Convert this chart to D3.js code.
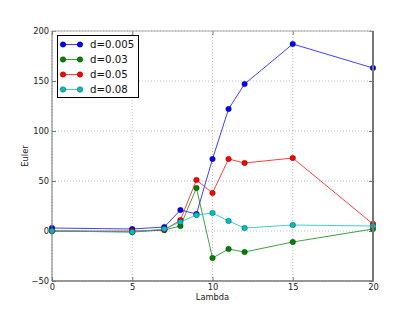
<!DOCTYPE html>
<html>
<head>
<meta charset="utf-8">
<script src="https://cdn.jsdelivr.net/npm/d3@7"></script>
<style>
	body { margin: 0; background: #fff; }
	svg { display: block; font-family: "DejaVu Sans", sans-serif; }
</style>
</head>
<body>
<script>
var lambdas = [0, 5, 7, 8, 9, 10, 11, 12, 15, 20];
var seriesNames = ["d=0.005", "d=0.03", "d=0.05", "d=0.08"];
var eulerD005 = [3, 2, 4, 21, 17, 72, 122, 147, 187, 163];
var eulerD03 = [0, -1, 1, 5, 43, -27, -18, -21, -11, 2];
var eulerD05 = [0, 0, 1, 11, 51, 38, 72, 68, 73, 7];
var eulerD08 = [0, -1, 2, 9, 16, 18, 10, 3, 6, 5];
var xTicks = [0, 5, 10, 15, 20];
var yTicks = [-50, 0, 50, 100, 150, 200];

var colors = ["#0000ff", "#008000", "#ff0000", "#00bfbf"];
var series = [eulerD005, eulerD03, eulerD05, eulerD08];

var width = 415, height = 312;
var plotLeft = 52, plotRight = 373, plotTop = 31, plotBottom = 281;

var svg = d3.select("body").append("svg")
	.attr("width", width)
	.attr("height", height);

var x = d3.scaleLinear().domain([0, 20]).range([plotLeft, plotRight]);
var y = d3.scaleLinear().domain([-50, 200]).range([plotBottom, plotTop]);

// grid
svg.selectAll("line.gx")
	.data(xTicks)
	.enter().append("line")
	.attr("x1", function(d) { return x(d); })
	.attr("x2", function(d) { return x(d); })
	.attr("y1", plotTop).attr("y2", plotBottom)
	.style("stroke", "#b0b0b0")
	.style("stroke-dasharray", "1,2")
	.style("stroke-width", 0.8);

svg.selectAll("line.gy")
	.data(yTicks)
	.enter().append("line")
	.attr("x1", plotLeft).attr("x2", plotRight)
	.attr("y1", function(d) { return y(d); })
	.attr("y2", function(d) { return y(d); })
	.style("stroke", "#b0b0b0")
	.style("stroke-dasharray", "1,2")
	.style("stroke-width", 0.8);

// axes with inward ticks
svg.append("g")
	.attr("transform", "translate(0," + plotBottom + ")")
	.call(d3.axisBottom(x).tickValues(xTicks).tickSize(-4).tickPadding(3).tickFormat(d3.format("d")));
svg.append("g")
	.attr("transform", "translate(" + plotLeft + ",0)")
	.call(d3.axisLeft(y).tickValues(yTicks).tickSize(-4).tickPadding(3).tickFormat(function(d) { return d < 0 ? "\u2212" + Math.abs(d) : d; }));
svg.append("g")
	.attr("transform", "translate(0," + plotTop + ")")
	.call(d3.axisTop(x).tickValues(xTicks).tickSize(-4).tickFormat(""));
svg.append("g")
	.attr("transform", "translate(" + plotRight + ",0)")
	.call(d3.axisRight(y).tickValues(yTicks).tickSize(-4).tickFormat(""));

svg.selectAll(".domain").remove();
svg.selectAll(".tick line").style("stroke", "#555").style("stroke-width", 0.8);
svg.selectAll(".tick text")
	.style("font-family", "DejaVu Sans")
	.style("font-size", "8.3px")
	.attr("fill", "#222");

// lines and markers
var line = d3.line()
	.x(function(d, i) { return x(lambdas[i]); })
	.y(function(d) { return y(d); });

series.forEach(function(values, s) {
	svg.append("path")
		.datum(values)
		.attr("d", line)
		.style("fill", "none")
		.style("stroke", colors[s])
		.style("stroke-opacity", 0.75)
		.style("stroke-width", 1);
	svg.selectAll("circle.s" + s)
		.data(values)
		.enter().append("circle")
		.attr("class", "s" + s)
		.attr("cx", function(d, i) { return x(lambdas[i]); })
		.attr("cy", function(d) { return y(d); })
		.attr("r", 2.8)
		.style("fill", colors[s])
		.style("stroke", "#000")
		.style("stroke-opacity", 0.6)
		.style("stroke-width", 0.5);
});

// frame
svg.append("line").attr("x1", plotLeft).attr("x2", plotRight).attr("y1", plotTop).attr("y2", plotTop)
	.style("stroke", "#aaa").style("stroke-width", 1);
svg.append("line").attr("x1", plotLeft).attr("x2", plotLeft).attr("y1", plotTop).attr("y2", plotBottom)
	.style("stroke", "#777").style("stroke-width", 1);
svg.append("line").attr("x1", plotLeft).attr("x2", plotRight + 1).attr("y1", plotBottom).attr("y2", plotBottom)
	.style("stroke", "#777").style("stroke-width", 1.5);
svg.append("line").attr("x1", plotRight).attr("x2", plotRight).attr("y1", plotTop).attr("y2", plotBottom)
	.style("stroke", "#777").style("stroke-width", 2);

// axis labels
svg.append("text")
	.attr("x", (plotLeft + plotRight) / 2)
	.attr("y", 300)
	.attr("text-anchor", "middle")
	.style("font-size", "8.3px")
	.attr("fill", "#222")
	.text("Lambda");
svg.append("text")
	.attr("transform", "translate(28," + ((plotTop + plotBottom) / 2) + ") rotate(-90)")
	.attr("text-anchor", "middle")
	.style("font-size", "8.3px")
	.attr("fill", "#222")
	.text("Euler");

// legend
var legend = svg.append("g");
legend.append("rect")
	.attr("x", 57.5).attr("y", 35.5)
	.attr("width", 81).attr("height", 62)
	.style("fill", "#fff")
	.style("stroke", "#000")
	.style("stroke-width", 1);
var rows = legend.selectAll("g.row")
	.data(seriesNames)
	.enter().append("g")
	.attr("class", "row")
	.attr("transform", function(d, i) { return "translate(0," + (44.5 + i * 15) + ")"; });
rows.append("line")
	.attr("x1", 63).attr("x2", 80)
	.attr("y1", 0).attr("y2", 0)
	.style("stroke", function(d, i) { return colors[i]; })
	.style("stroke-opacity", 0.75)
	.style("stroke-width", 1);
rows.each(function(d, i) {
	d3.select(this).selectAll("circle")
		.data([63, 80])
		.enter().append("circle")
		.attr("cx", function(cx) { return cx; })
		.attr("cy", 0)
		.attr("r", 2.8)
		.style("fill", colors[i])
		.style("stroke", "#000")
		.style("stroke-opacity", 0.6)
		.style("stroke-width", 0.5);
});
rows.append("text")
	.attr("x", 90)
	.attr("y", 3.6)
	.style("font-size", "10.2px")
	.attr("fill", "#111")
	.text(function(d) { return d; });
</script>
</body>
</html>
